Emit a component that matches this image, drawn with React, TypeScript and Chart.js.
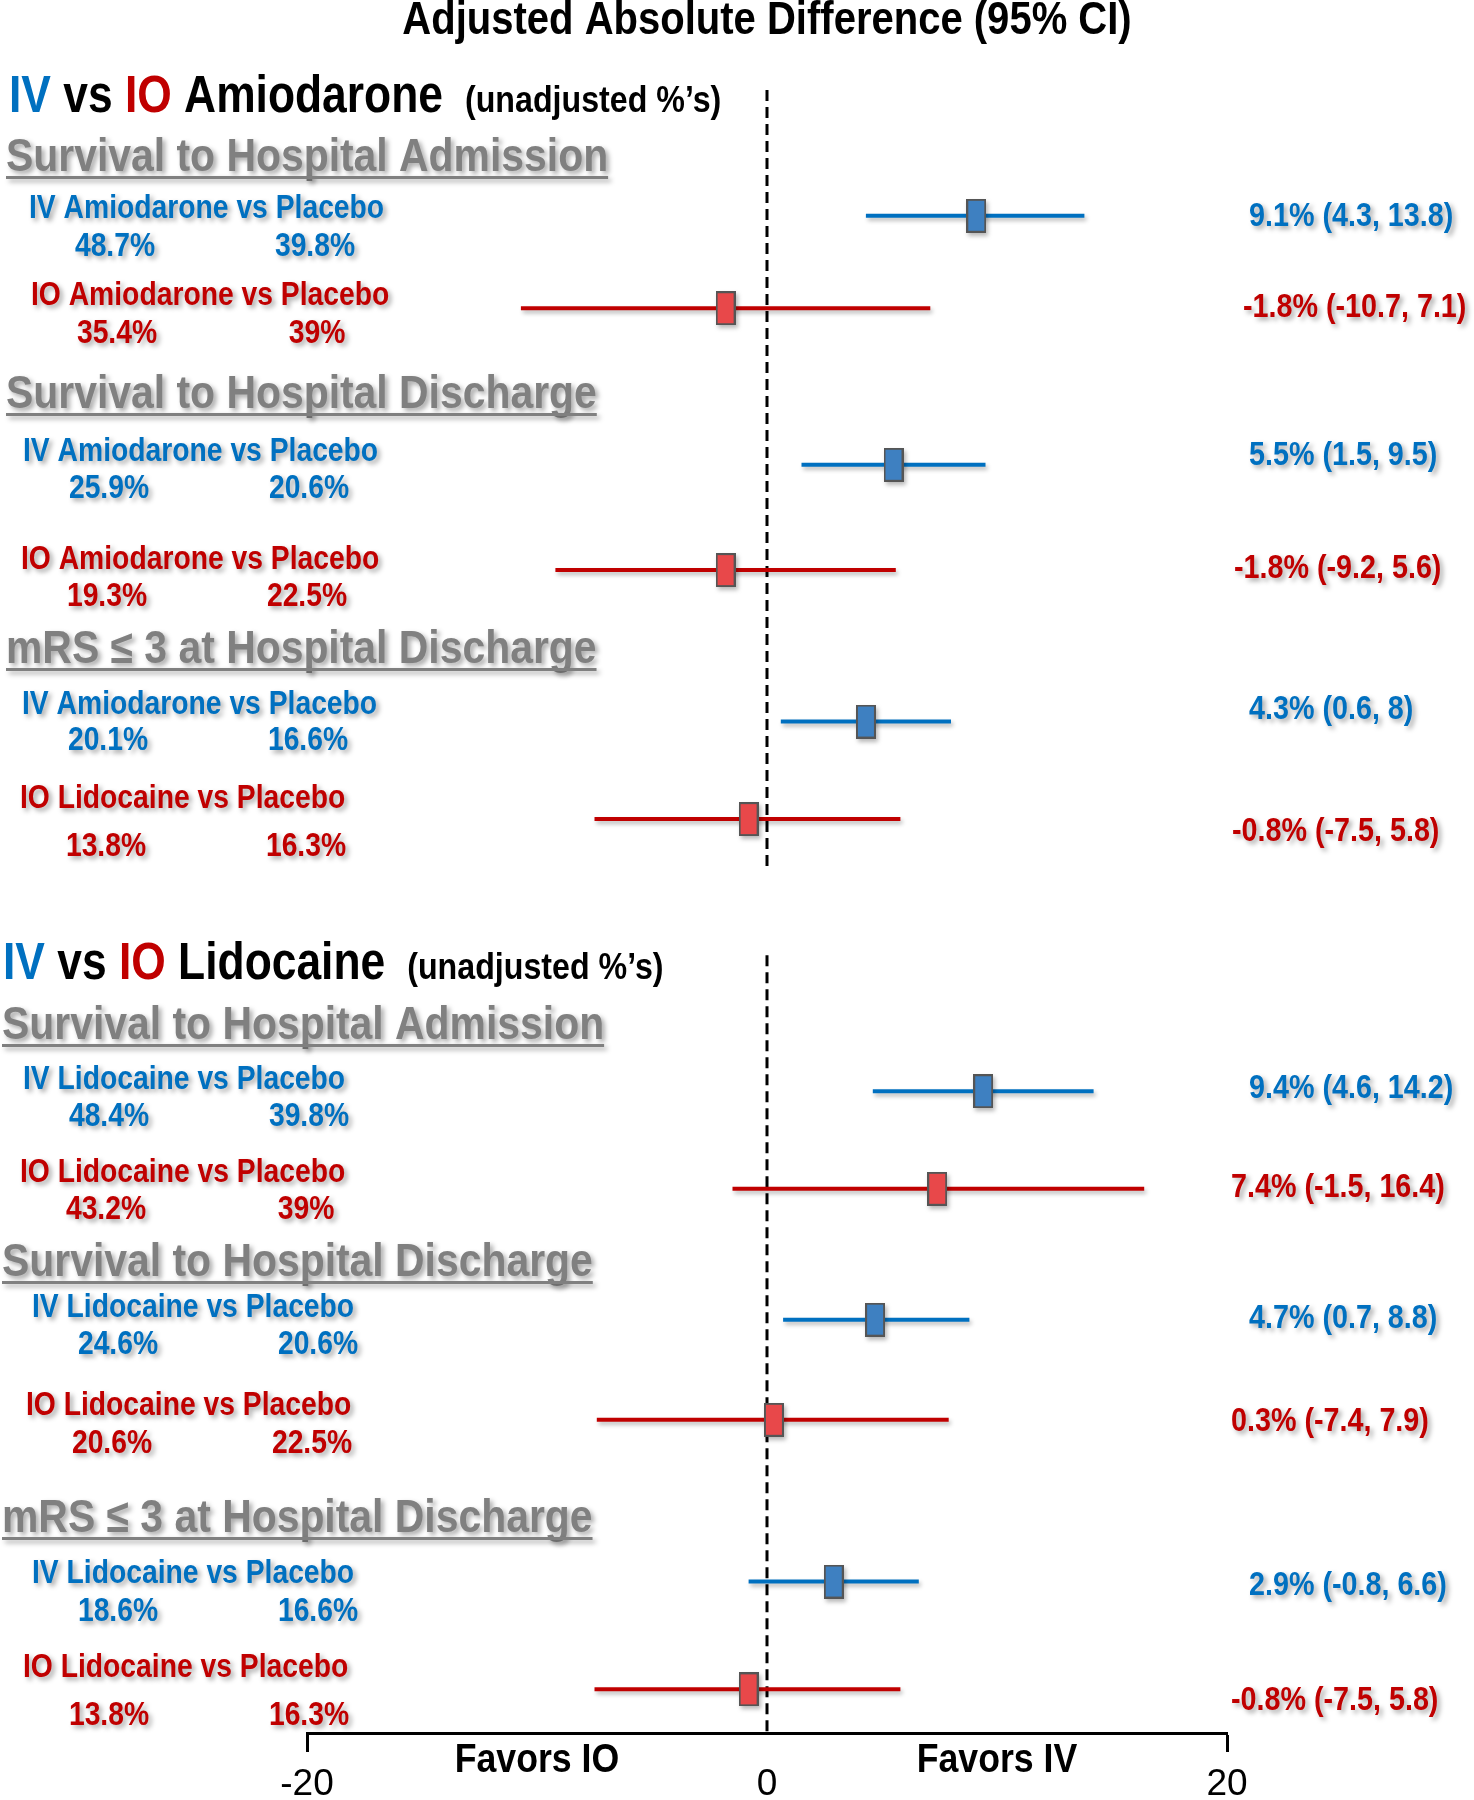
import React, { useEffect, useRef } from "react";
import { Chart, registerables } from "chart.js";

Chart.register(...registerables);

// ---------------- DATA ----------------
const sectionDrugs = ["Amiodarone", "Lidocaine"];
const outcomeHeaders = [
  "Survival to Hospital Admission",
  "Survival to Hospital Discharge",
  "mRS ≤ 3 at Hospital Discharge",
];
const rowLabels = [
  "IV Amiodarone vs Placebo",
  "IO Amiodarone vs Placebo",
  "IV Amiodarone vs Placebo",
  "IO Amiodarone vs Placebo",
  "IV Amiodarone vs Placebo",
  "IO Lidocaine vs Placebo",
  "IV Lidocaine vs Placebo",
  "IO Lidocaine vs Placebo",
  "IV Lidocaine vs Placebo",
  "IO Lidocaine vs Placebo",
  "IV Lidocaine vs Placebo",
  "IO Lidocaine vs Placebo",
];
const rowRoutes = ["IV", "IO", "IV", "IO", "IV", "IO", "IV", "IO", "IV", "IO", "IV", "IO"];
const drugPct = [48.7, 35.4, 25.9, 19.3, 20.1, 13.8, 48.4, 43.2, 24.6, 20.6, 18.6, 13.8];
const placeboPct = [39.8, 39, 20.6, 22.5, 16.6, 16.3, 39.8, 39, 20.6, 22.5, 16.6, 16.3];
const estimates = [9.1, -1.8, 5.5, -1.8, 4.3, -0.8, 9.4, 7.4, 4.7, 0.3, 2.9, -0.8];
const lowerCI = [4.3, -10.7, 1.5, -9.2, 0.6, -7.5, 4.6, -1.5, 0.7, -7.4, -0.8, -7.5];
const upperCI = [13.8, 7.1, 9.5, 5.6, 8, 5.8, 14.2, 16.4, 8.8, 7.9, 6.6, 5.8];
const xTickValues = [-20, 0, 20];
const favorsLabels = ["Favors IO", "Favors IV"];
const chartTitle = "Adjusted Absolute Difference (95% CI)";

// ---------------- LAYOUT (positions / sizes / styles) ----------------
const W = 1474;
const H = 1800;
const Y_MAX = 64;
const ROW_POS = [4.9, 8.5, 14.6, 18.7, 24.6, 28.4, 39.0, 42.8, 47.9, 51.8, 58.1, 62.3];
const ZERO_LINE_SPANS = [
  [0, 30.35],
  [33.7, 64],
];
const FAVORS_AT = [-10, 10];
const LABEL_X = [29, 31, 23, 21, 22, 20, 23, 20, 32, 26, 32, 23];
const LABEL_Y = [209, 296, 452, 560, 705, 799, 1080, 1173, 1308, 1406, 1574, 1668];
const PCT_Y = [247, 334, 489, 597, 741, 847, 1117, 1210, 1345, 1444, 1612, 1716];
const PCT_DX = [86, 286];
const CI_X = [1249, 1243, 1249, 1234, 1249, 1232, 1249, 1231, 1249, 1231, 1249, 1231];
const CI_Y = [217, 308, 456, 569, 710, 832, 1089, 1188, 1319, 1422, 1586, 1701];
const SECTION_POS = [
  { x: 9, base: 112 },
  { x: 3, base: 979 },
];
const SUBHEAD_POS = [
  { x: 6, line: 177 },
  { x: 6, line: 414 },
  { x: 6, line: 669 },
  { x: 2, line: 1045 },
  { x: 2, line: 1282 },
  { x: 2, line: 1538 },
];

const FONT = '"Liberation Sans", Arial, Helvetica, sans-serif';
const SX = 0.87; // horizontal condensing of the lettering
const BLUE = "#0070C0";
const RED = "#C00000";
const GRAY = "#808080";
const MARKER_FILL: Record<string, string> = { IV: "#3E80C1", IO: "#E8484A" };

function routeColor(r: string) {
  return r === "IV" ? BLUE : RED;
}

function makeMarker(fill: string) {
  const c = document.createElement("canvas");
  c.width = 20;
  c.height = 34;
  const g = c.getContext("2d")!;
  g.fillStyle = fill;
  g.fillRect(1, 1, 18, 32);
  g.strokeStyle = "#555555";
  g.lineWidth = 2;
  g.strokeRect(1, 1, 18, 32);
  return c;
}

function setShadow(ctx: CanvasRenderingContext2D, on: boolean) {
  if (on) {
    ctx.shadowColor = "rgba(0,0,0,0.35)";
    ctx.shadowBlur = 5;
    ctx.shadowOffsetX = 3;
    ctx.shadowOffsetY = 3;
  } else {
    ctx.shadowColor = "rgba(0,0,0,0)";
    ctx.shadowBlur = 0;
    ctx.shadowOffsetX = 0;
    ctx.shadowOffsetY = 0;
  }
}

// draws condensed text; returns drawn width in px
function text(
  ctx: CanvasRenderingContext2D,
  s: string,
  x: number,
  y: number,
  size: number,
  color: string,
  align: CanvasTextAlign = "left",
  baseline: CanvasTextBaseline = "middle",
  shadow = false,
  weight = "bold"
) {
  ctx.save();
  ctx.font = `${weight} ${size}px ${FONT}`;
  ctx.fillStyle = color;
  ctx.textAlign = align;
  ctx.textBaseline = baseline;
  setShadow(ctx, shadow);
  const w = ctx.measureText(s).width * SX;
  ctx.translate(x, y);
  ctx.scale(SX, 1);
  ctx.fillText(s, 0, 0);
  ctx.restore();
  return w;
}

const shadowPlugin = {
  id: "markShadows",
  beforeDatasetDraw(chart: any, args: any) {
    const ds = chart.data.datasets[args.index];
    if (!ds.castShadow) return;
    const ctx: CanvasRenderingContext2D = chart.ctx;
    ctx.save();
    ctx.shadowColor = "rgba(0,0,0,0.28)";
    ctx.shadowBlur = 4;
    ctx.shadowOffsetX = 2;
    ctx.shadowOffsetY = 3;
  },
  afterDatasetDraw(chart: any, args: any) {
    const ds = chart.data.datasets[args.index];
    if (!ds.castShadow) return;
    chart.ctx.restore();
  },
};

const textPlugin = {
  id: "forestText",
  afterDraw(chart: any) {
    const ctx: CanvasRenderingContext2D = chart.ctx;
    const xs = chart.scales.x;

    // Title
    text(ctx, chartTitle, xs.getPixelForValue(0), 21, 46, "#000", "center");

    // Section headers
    sectionDrugs.forEach((drug, s) => {
      const p = SECTION_POS[s];
      let x = p.x;
      const parts: [string, string][] = [
        ["IV", BLUE],
        [" vs ", "#000"],
        ["IO", RED],
        [" " + drug, "#000"],
      ];
      parts.forEach(([t, c]) => {
        x += text(ctx, t, x, p.base, 51, c, "left", "alphabetic");
      });
      text(ctx, "(unadjusted %’s)", x + 22, p.base, 37, "#000", "left", "alphabetic");
    });

    // Outcome sub-headers (gray, underlined)
    SUBHEAD_POS.forEach((p, k) => {
      const label = outcomeHeaders[k % outcomeHeaders.length];
      const w = text(ctx, label, p.x, p.line - 6, 47, GRAY, "left", "alphabetic", true);
      ctx.save();
      setShadow(ctx, true);
      ctx.fillStyle = GRAY;
      ctx.fillRect(p.x, p.line - 1, w, 3);
      ctx.restore();
    });

    // Row labels, percentages, CI text
    rowLabels.forEach((lab, i) => {
      const c = routeColor(rowRoutes[i]);
      text(ctx, lab, LABEL_X[i], LABEL_Y[i], 32.5, c, "left", "middle", true);
      text(ctx, `${drugPct[i]}%`, LABEL_X[i] + PCT_DX[0], PCT_Y[i], 32.5, c, "center", "middle", true);
      text(ctx, `${placeboPct[i]}%`, LABEL_X[i] + PCT_DX[1], PCT_Y[i], 32.5, c, "center", "middle", true);
      text(
        ctx,
        `${estimates[i]}% (${lowerCI[i]}, ${upperCI[i]})`,
        CI_X[i],
        CI_Y[i],
        33,
        c,
        "left",
        "middle",
        true
      );
    });

    // Favors labels
    favorsLabels.forEach((f, k) => {
      text(ctx, f, xs.getPixelForValue(FAVORS_AT[k]), 1761, 41, "#000", "center");
    });
  },
};

export default function App() {
  const ref = useRef<HTMLCanvasElement>(null);

  useEffect(() => {
    const canvas = ref.current;
    if (!canvas) return;
    const markers: Record<string, HTMLCanvasElement> = {
      IV: makeMarker(MARKER_FILL.IV),
      IO: makeMarker(MARKER_FILL.IO),
    };

    const datasets: any[] = [];
    ZERO_LINE_SPANS.forEach(([a, b]) => {
      datasets.push({
        type: "line",
        data: [
          { x: 0, y: a },
          { x: 0, y: b },
        ],
        borderColor: "#000",
        borderWidth: 3,
        borderDash: [11, 6],
        pointRadius: 0,
        fill: false,
        order: 3,
      });
    });
    estimates.forEach((_, i) => {
      datasets.push({
        type: "line",
        data: [
          { x: lowerCI[i], y: ROW_POS[i] },
          { x: upperCI[i], y: ROW_POS[i] },
        ],
        borderColor: routeColor(rowRoutes[i]),
        borderWidth: 4,
        pointRadius: 0,
        fill: false,
        order: 2,
        castShadow: true,
      });
    });
    ["IV", "IO"].forEach((route) => {
      const pts = estimates
        .map((e, i) => ({ x: e, y: ROW_POS[i], r: rowRoutes[i] }))
        .filter((p) => p.r === route)
        .map((p) => ({ x: p.x, y: p.y }));
      datasets.push({
        type: "scatter",
        data: pts,
        pointStyle: markers[route],
        pointRadius: 10,
        order: 1,
        castShadow: true,
      });
    });

    const chart = new Chart(canvas, {
      type: "scatter",
      data: { datasets },
      plugins: [shadowPlugin, textPlugin],
      options: {
        responsive: false,
        animation: false,
        devicePixelRatio: 1,
        layout: { padding: { left: 307, right: W - 1227, top: 90, bottom: 0 } },
        plugins: {
          legend: { display: false },
          tooltip: { enabled: false },
          title: { display: false },
        },
        scales: {
          x: {
            type: "linear",
            position: "bottom",
            min: -20,
            max: 20,
            afterFit: (scale: any) => {
              scale.height = 67;
            },
            afterBuildTicks: (scale: any) => {
              scale.ticks = xTickValues.map((v) => ({ value: v }));
            },
            ticks: {
              font: { family: FONT, size: 37, weight: "normal" },
              color: "#000",
              padding: 11,
              maxRotation: 0,
              autoSkip: false,
            },
            grid: {
              display: true,
              drawOnChartArea: false,
              drawTicks: true,
              tickLength: 19,
              tickWidth: 3,
              tickColor: (c: any) => (c.tick && c.tick.value === 0 ? "rgba(0,0,0,0)" : "#000"),
            },
            border: { display: true, color: "#000", width: 3 },
          },
          y: {
            type: "linear",
            display: false,
            min: 0,
            max: Y_MAX,
            reverse: true,
          },
        },
      } as any,
    });
    return () => chart.destroy();
  }, []);

  return (
    <div style={{ position: "absolute", left: 0, top: 0, width: W, height: H, background: "#fff" }}>
      <canvas ref={ref} width={W} height={H} style={{ display: "block" }} />
    </div>
  );
}
